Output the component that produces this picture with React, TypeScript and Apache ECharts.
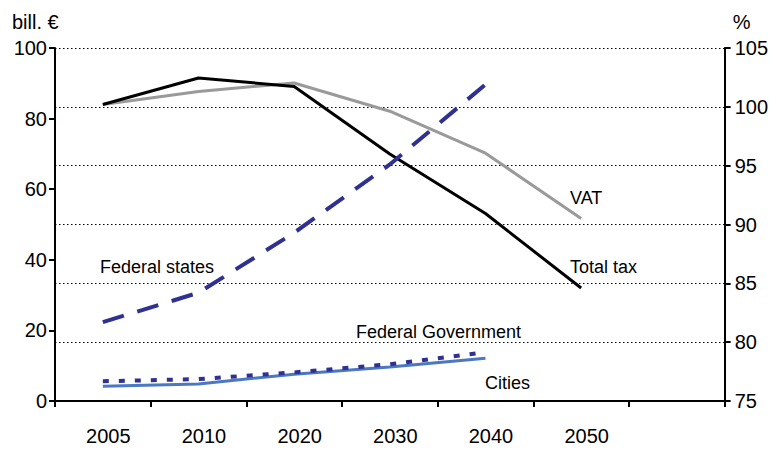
import React, { useEffect, useRef } from "react";
import * as echarts from "echarts";

const categories = ["2005", "2010", "2020", "2030", "2040", "2050", ""];
const totalTax = [84.0, 91.5, 89.1, 70.0, 53.1, 32.0, null];
const vat = [84.0, 87.7, 90.1, 82.1, 70.2, 51.7, null];
const federalStates = [81.7, 84.2, 89.3, 95.1, 101.9, null, null];
const federalGovernment = [5.6, 6.2, 8.1, 10.4, 13.8, null, null];
const cities = [4.2, 4.8, 7.6, 9.6, 12.1, null, null];

const leftTicks = { min: 0, max: 100, interval: 20 };
const rightTicks = { min: 75, max: 105, interval: 5 };

const FONT = "Liberation Sans, Arial, sans-serif";
const NAVY = "#2e3192";

export default function App() {
  const ref = useRef<HTMLDivElement>(null);
  useEffect(() => {
    if (!ref.current) return;
    const chart = echarts.init(ref.current, null, { renderer: "svg" });
    const label = (text: string, x: number, y: number) => ({
      type: "text",
      x: x - 8,
      y: y - 8,
      style: { text, fontSize: 18, fontFamily: FONT, fill: "#000", textVerticalAlign: "middle" },
    });
    chart.setOption({
      animation: false,
      backgroundColor: "#fff",
      grid: { left: 47, right: 44, top: 40, bottom: 42 },
      xAxis: {
        type: "category",
        data: categories,
        boundaryGap: true,
        axisLine: { lineStyle: { color: "#000", width: 2 } },
        axisTick: { show: true, length: 6, lineStyle: { color: "#000", width: 2 } },
        axisLabel: { color: "#000", fontSize: 20, fontFamily: FONT, margin: 25, padding: [0, 0, 0, 11] },
        splitLine: { show: false },
      },
      yAxis: [
        {
          type: "value",
          ...leftTicks,
          position: "left",
          name: "bill. €",
          nameLocation: "end",
          nameGap: 16,
          nameTextStyle: { color: "#000", fontSize: 20, fontFamily: FONT, align: "left", padding: [0, 0, 0, -43] },
          axisLine: { show: true, lineStyle: { color: "#000", width: 2 } },
          axisTick: { show: true, length: 6, lineStyle: { color: "#000", width: 2 } },
          axisLabel: { color: "#000", fontSize: 20, fontFamily: FONT, margin: 8 },
          splitLine: { show: false },
        },
        {
          type: "value",
          ...rightTicks,
          position: "right",
          name: "%",
          nameLocation: "end",
          nameGap: 16,
          nameTextStyle: { color: "#000", fontSize: 20, fontFamily: FONT, align: "left", padding: [0, 0, 0, 8] },
          axisLine: { show: true, lineStyle: { color: "#000", width: 2 } },
          axisTick: { show: true, inside: false, length: 6, lineStyle: { color: "#000", width: 2 } },
          axisLabel: { color: "#000", fontSize: 20, fontFamily: FONT, margin: 10 },
          splitLine: { show: true, lineStyle: { color: "#000", type: [1.5, 2.5], width: 1 } },
        },
      ],
      series: [
        {
          name: "VAT",
          type: "line",
          data: vat,
          yAxisIndex: 0,
          symbol: "none",
          lineStyle: { color: "#9a9a9a", width: 3 },
        },
        {
          name: "Total tax",
          type: "line",
          data: totalTax,
          yAxisIndex: 0,
          symbol: "none",
          lineStyle: { color: "#000", width: 3 },
        },
        {
          name: "Federal states",
          type: "line",
          data: federalStates,
          yAxisIndex: 1,
          symbol: "none",
          lineStyle: { color: NAVY, width: 4, type: [22, 14] },
        },
        {
          name: "Cities",
          type: "line",
          data: cities,
          yAxisIndex: 0,
          symbol: "none",
          lineStyle: { color: "#4a78c2", width: 3 },
        },
        {
          name: "Federal Government",
          type: "line",
          data: federalGovernment,
          yAxisIndex: 0,
          symbol: "none",
          lineStyle: { color: NAVY, width: 4, type: [6, 10] },
        },
      ],
      graphic: [
        label("Federal states", 100, 267),
        label("Federal Government", 356, 332),
        label("Cities", 485, 383),
        label("VAT", 570, 198),
        label("Total tax", 570, 267),
      ],
    });
    return () => chart.dispose();
  }, []);
  return <div ref={ref} style={{ width: 763, height: 438 }} />;
}
